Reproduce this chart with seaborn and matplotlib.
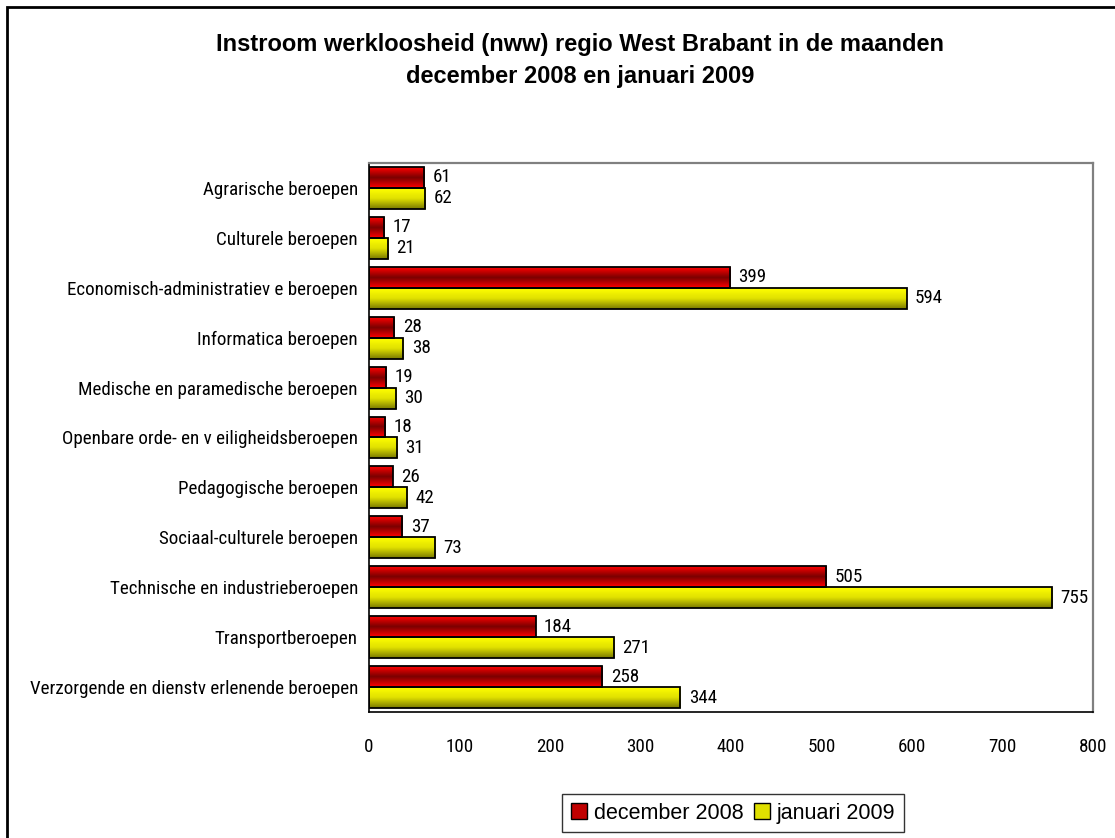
import numpy as np
import pandas as pd
import seaborn as sns
import matplotlib.pyplot as plt
from matplotlib import font_manager
from matplotlib.colors import LinearSegmentedColormap
from matplotlib.patches import Patch, Rectangle

categories = [
    'Agrarische beroepen',
    'Culturele beroepen',
    'Economisch-administratiev e beroepen',
    'Informatica beroepen',
    'Medische en paramedische beroepen',
    'Openbare orde- en v eiligheidsberoepen',
    'Pedagogische beroepen',
    'Sociaal-culturele beroepen',
    'Technische en industrieberoepen',
    'Transportberoepen',
    'Verzorgende en dienstv erlenende beroepen',
]
december_2008 = [61, 17, 399, 28, 19, 18, 26, 37, 505, 184, 258]
januari_2009 = [62, 21, 594, 38, 30, 31, 42, 73, 755, 271, 344]
series_names = ['december 2008', 'januari 2009']
x_ticks = [0, 100, 200, 300, 400, 500, 600, 700, 800]

# pick a narrow sans (like Arial Narrow)
names = {f.name for f in font_manager.fontManager.ttflist}
narrow = None
for cand in ['Liberation Sans Narrow', 'Arial Narrow', 'DejaVu Sans Condensed', 'Roboto Condensed']:
    if cand in names:
        narrow = cand
        break
if narrow is None:
    for n in sorted(names):
        if ('Narrow' in n or 'Condensed' in n) and 'Mono' not in n and 'Serif' not in n:
            narrow = n
            break
if narrow is None:
    narrow = 'Liberation Sans'

sns.set_style('white')
plt.rcParams['font.family'] = [narrow, 'DejaVu Sans']
plt.rcParams['text.color'] = 'black'
plt.rcParams['xtick.color'] = 'black'
plt.rcParams['ytick.color'] = 'black'

fig = plt.figure(figsize=(11.15, 8.38), dpi=100)

# size the labels so the longest one is about as wide as in the original (~325 px)
probe = fig.text(0, 0, categories[-1], fontsize=10)
w10 = probe.get_window_extent(renderer=fig.canvas.get_renderer()).width
probe.remove()
lab_size = min(14.5, 10 * 325 / w10)

df = pd.DataFrame({
    'beroep': categories * 2,
    'aantal': december_2008 + januari_2009,
    'maand': [series_names[0]] * len(categories) + [series_names[1]] * len(categories),
})

ax = fig.add_axes([369 / 1115, 1 - 712 / 838, (1093 - 369) / 1115, (712 - 163) / 838])

sns.barplot(data=df, y='beroep', x='aantal', hue='maand', orient='h',
            palette=['#ff0000', '#ffff00'], edgecolor='black', linewidth=1.3,
            width=0.84, legend=False, ax=ax)

# Excel-like gradient fills
red_cmap = LinearSegmentedColormap.from_list('r', ['#ff0000', '#7a0000', '#ff0000'])
yel_cmap = LinearSegmentedColormap.from_list('y', ['#ffff00', '#e0e000', '#7a7a00'])
grad = np.linspace(0, 1, 64).reshape(-1, 1)
for cont, cmap in zip(ax.containers, [red_cmap, yel_cmap]):
    for bar in cont:
        x0, y0 = bar.get_x(), bar.get_y()
        x1, y1 = x0 + bar.get_width(), y0 + bar.get_height()
        im = ax.imshow(grad, cmap=cmap, aspect='auto', extent=(x0, x1, y1, y0),
                       origin='upper', zorder=0.9, interpolation='bilinear')
        im.set_clip_path(bar)
        bar.set_facecolor('none')
    ax.bar_label(cont, padding=6, fontsize=lab_size, color='black')

ax.set_xlim(0, 800)
ax.set_ylim(len(categories) - 0.5, -0.5)
ax.set_xticks(x_ticks)
ax.set_xticklabels([str(t) for t in x_ticks], fontsize=lab_size)
ax.set_yticks(range(len(categories)))
ax.set_yticklabels(categories, fontsize=lab_size)
ax.set_yticks(np.arange(-0.5, len(categories), 1), minor=True)
ax.tick_params(axis='y', which='major', length=0, pad=8)
ax.tick_params(axis='y', which='minor', length=6, width=1, direction='out', color='black')
ax.tick_params(axis='x', which='major', length=6, width=1, direction='out', color='black', pad=13)
ax.set_xlabel('')
ax.set_ylabel('')
for side in ['left', 'bottom']:
    ax.spines[side].set_color('black')
    ax.spines[side].set_linewidth(1.2)
for side in ['top', 'right']:
    ax.spines[side].set_color('#808080')
    ax.spines[side].set_linewidth(1.6)

fig.text(0.52, 1 - 45 / 838, 'Instroom werkloosheid (nww) regio West Brabant in de maanden',
         ha='center', va='center', fontsize=17, fontweight='bold', family='Liberation Sans')
fig.text(0.52, 1 - 77 / 838, 'december 2008 en januari 2009',
         ha='center', va='center', fontsize=17, fontweight='bold', family='Liberation Sans')

handles = [Patch(facecolor='#c00000', edgecolor='black'),
           Patch(facecolor='#e0e000', edgecolor='black')]
leg = fig.legend(handles, series_names, loc='center', bbox_to_anchor=(733 / 1115, 1 - 813 / 838),
                 ncol=2, frameon=True, fancybox=False, edgecolor='black',
                 handlelength=0.75, handleheight=0.75, handletextpad=0.3, columnspacing=0.5,
                 borderpad=0.4, prop={'family': 'Liberation Sans', 'size': 15.5})
leg.get_frame().set_linewidth(1.0)

# outer chart frame
fig.patches.append(Rectangle((7 / 1115, -0.1), 1.2, 1 - 7 / 838 + 0.1, transform=fig.transFigure,
                             fill=False, edgecolor='black', linewidth=2))

fig.savefig('out.png', dpi=100)
